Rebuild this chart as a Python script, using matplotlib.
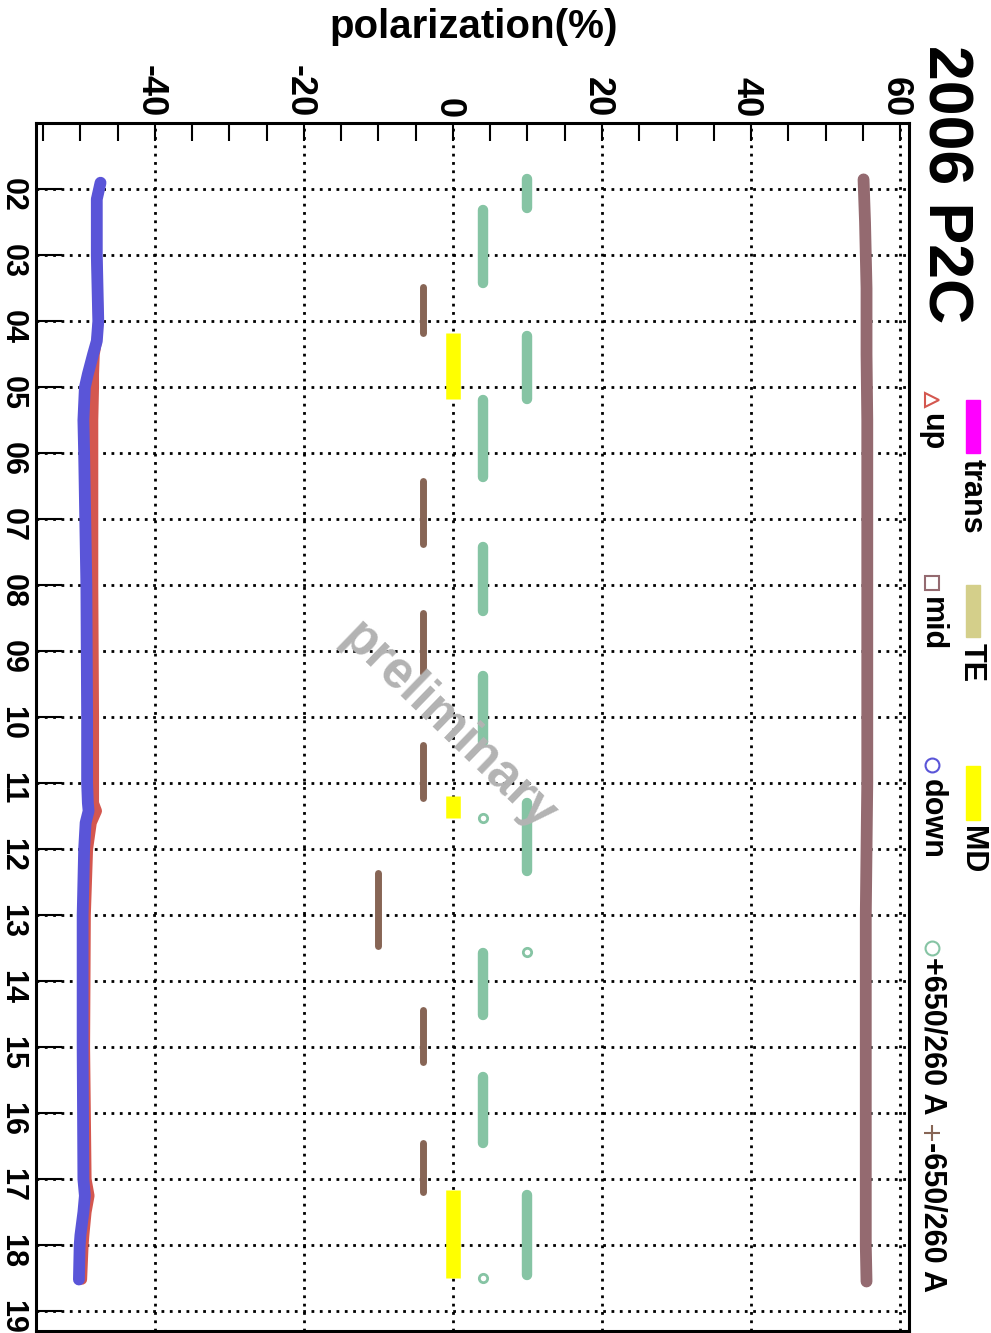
import matplotlib.pyplot as plt
import matplotlib.patches as mpatches
import matplotlib.transforms as mtransforms
from matplotlib.ticker import MultipleLocator

plt.rcParams['font.family'] = ['Liberation Sans', 'DejaVu Sans']
plt.rcParams['font.weight'] = 'bold'
plt.rcParams['axes.unicode_minus'] = False

# polarization vs day (chart is drawn rotated: day runs downwards)
day_trans = [1.85, 2.5, 3.5, 4.5, 5.5, 7, 9, 11, 12, 13, 15, 17, 18, 18.55]
pol_trans = [55.1, 55.3, 55.5, 55.5, 55.6, 55.6, 55.6, 55.6, 55.5, 55.4, 55.4, 55.4, 55.4, 55.5]

day_up = [1.9, 2.15, 3, 4, 4.3, 4.5, 4.8, 5.0, 5.5, 6, 8, 10, 11, 11.3, 11.42, 11.6,
          12, 13, 15, 17, 17.25, 17.5, 17.85, 18, 18.52]
pol_up = [-47.3, -47.8, -47.8, -47.6, -47.8, -48.1, -48.2, -48.2, -48.3, -48.3, -48.3, -48.2, -48.2, -48.2, -47.8, -48.5,
          -49.0, -49.3, -49.4, -49.2, -48.8, -49.2, -49.5, -49.6, -49.8]

day_down = [1.9, 2.15, 3, 4, 4.3, 4.5, 4.8, 5.0, 5.5, 6, 8, 10, 11, 11.3, 11.42, 11.6,
            12, 13, 15, 17, 17.25, 17.5, 17.85, 18, 18.52]
pol_down = [-47.3, -47.8, -47.8, -47.6, -47.8, -48.3, -49.0, -49.4, -49.6, -49.5, -49.2, -49.1, -49.1, -49.0, -48.9, -49.3,
            -49.5, -49.7, -49.7, -49.6, -49.4, -49.6, -50.0, -50.1, -50.2]

# +650/260 A runs (green) : pol, first day, last day
plus_pol = [10, 4, 10, 4, 4, 4, 10, 4, 4, 10]
plus_start = [1.85, 2.31, 4.23, 5.19, 7.42, 9.38, 11.30, 13.57, 15.45, 17.24]
plus_end = [2.29, 3.42, 5.18, 6.36, 8.39, 10.37, 12.33, 14.51, 16.45, 18.45]
plus_pt_pol = [4, 10, 4]
plus_pt_day = [11.53, 13.56, 18.49]

# -650/260 A runs (brown)
minus_pol = [-4, -4, -4, -4, -10, -4, -4]
minus_start = [3.48, 6.42, 8.42, 10.42, 12.36, 14.43, 16.45]
minus_end = [4.18, 7.38, 9.33, 11.23, 13.47, 15.22, 17.19]

# MD periods (yellow)
md_pol = [0, 0, 0]
md_start = [4.17, 11.19, 17.16]
md_end = [5.18, 11.52, 18.50]

day_ticks = list(range(2, 20))
day_labels = ['%02d' % d for d in day_ticks]

W, H = 991, 1333
def fx(x): return x / W
def fy(y): return 1 - y / H

fig = plt.figure(figsize=(9.91, 13.33), dpi=100)
ax = fig.add_axes([fx(35.7), fy(1331), (909 - 35.7) / W, (1331 - 123.3) / H])

c_trans = '#946a70'
c_up = '#d4574f'
c_down = '#5a55d8'
c_plus = '#86c4a4'
c_minus = '#876555'

ax.plot(pol_trans, day_trans, color=c_trans, lw=8.5, solid_capstyle='round', zorder=3)
ax.plot(pol_up, day_up, color=c_up, lw=7.5, solid_capstyle='round', zorder=3)
ax.plot(pol_down, day_down, color=c_down, lw=8.5, solid_capstyle='round', zorder=4)

for p, a, b in zip(plus_pol, plus_start, plus_end):
    ax.plot([p, p], [a, b], color=c_plus, lw=7.5, solid_capstyle='round', zorder=3)
ax.plot(plus_pt_pol, plus_pt_day, 'o', ms=6, mfc='none', mec=c_plus, mew=2, zorder=3)
for p, a, b in zip(minus_pol, minus_start, minus_end):
    ax.plot([p, p], [a, b], color=c_minus, lw=5, solid_capstyle='round', zorder=3)
for p, a, b in zip(md_pol, md_start, md_end):
    ax.plot([p, p], [a, b], color='#ffff00', lw=10.5, solid_capstyle='butt', zorder=3)

ax.set_xlim(-56, 61.2)
ax.set_ylim(19.3, 1.0)
ax.xaxis.tick_top()
ax.set_xticks(range(-40, 61, 20))
ax.xaxis.set_minor_locator(MultipleLocator(5))
ax.tick_params(axis='x', which='both', direction='in', length=13, width=1.5,
               top=True, bottom=False, labeltop=True, labelbottom=False,
               labelsize=26, pad=4, labelrotation=-90)
ax.set_yticks(day_ticks, day_labels)
ax.tick_params(axis='y', direction='in', length=19, width=1.5,
               labelsize=22, pad=6, labelrotation=-90)
ax.grid(True, which='major', color='black', linestyle=(0, (1, 2)), linewidth=2)
for s in ax.spines.values():
    s.set_linewidth(2.2)

# nudge rotated top labels so they sit centred on their grid lines
shift = mtransforms.ScaledTranslation(-5 / 100, 0, fig.dpi_scale_trans)
for lbl in ax.get_xticklabels():
    lbl.set_transform(lbl.get_transform() + shift)

fig.text(fx(474), fy(27), 'polarization(%)', fontsize=29, ha='center', va='center')
fig.text(fx(945), fy(45), '2006 P2C', fontsize=45, rotation=-90, ha='center', va='top')
fig.text(fx(448), fy(727), 'preliminary', fontsize=37, rotation=-44, color='#b3b3b3',
         ha='center', va='center', rotation_mode='anchor', zorder=5)

# legend, first column: fill boxes
for y0, y1, c, txt in [(400, 453, '#ff00ff', 'trans'), (585, 637, '#d4cf8a', 'TE'), (766, 820, '#ffff00', 'MD')]:
    fig.patches.append(mpatches.Rectangle((fx(966), fy(y1)), 14 / W, (y1 - y0) / H,
                                          transform=fig.transFigure, color=c))
    fig.text(fx(972), fy(y1 + 6), txt, fontsize=22, rotation=-90, ha='center', va='top')

# legend, second column: markers
fig.lines.append(plt.Line2D([fx(932)], [fy(400)], marker='>', ms=10, mfc='none', mec=c_up, mew=1.5,
                            transform=fig.transFigure))
fig.lines.append(plt.Line2D([fx(932)], [fy(583)], marker='s', ms=10, mfc='none', mec=c_trans, mew=1.5,
                            transform=fig.transFigure))
fig.lines.append(plt.Line2D([fx(932)], [fy(765)], marker='o', ms=10, mfc='none', mec=c_down, mew=1.5,
                            transform=fig.transFigure))
fig.lines.append(plt.Line2D([fx(932)], [fy(948)], marker='o', ms=10, mfc='none', mec=c_plus, mew=1.5,
                            transform=fig.transFigure))
fig.lines.append(plt.Line2D([fx(932)], [fy(1133)], marker='+', ms=12, mec=c_minus, mew=1.5,
                            transform=fig.transFigure))
fig.text(fx(932), fy(413), 'up', fontsize=22, rotation=-90, ha='center', va='top')
fig.text(fx(932), fy(597), 'mid', fontsize=22, rotation=-90, ha='center', va='top')
fig.text(fx(932), fy(779), 'down', fontsize=22, rotation=-90, ha='center', va='top')
fig.text(fx(932), fy(957), '+650/260 A', fontsize=22, rotation=-90, ha='center', va='top')
fig.text(fx(932), fy(1142), '-650/260 A', fontsize=22, rotation=-90, ha='center', va='top')

fig.savefig('out.png', dpi=100)
